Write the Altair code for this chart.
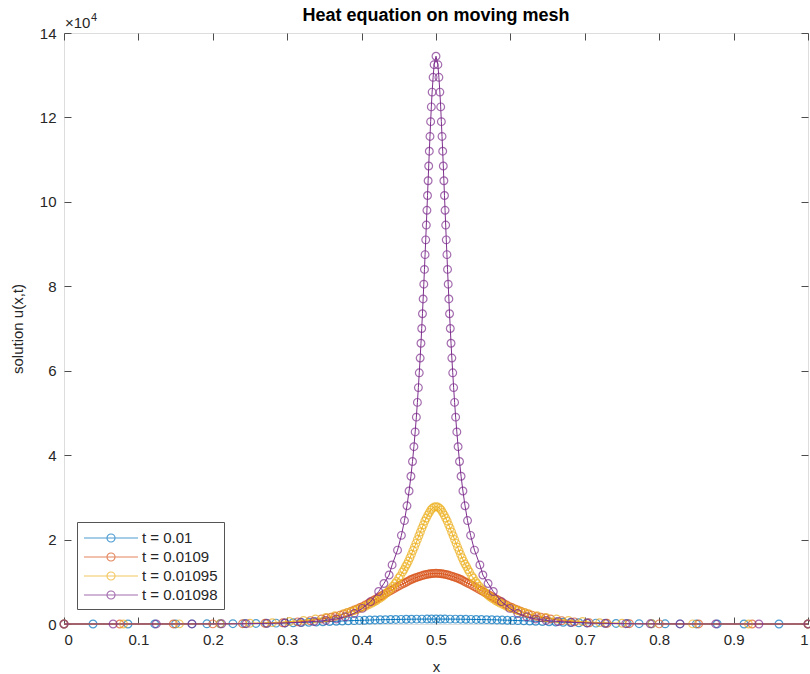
import altair as alt
import pandas as pd

series_names = ["t = 0.01", "t = 0.0109", "t = 0.01095", "t = 0.01098"]
series_colors = ["#0072BD", "#D95319", "#EDB120", "#7E2F8E"]

x_blue = [0, 0.039, 0.086, 0.122, 0.150, 0.172, 0.192, 0.210, 0.227, 0.243, 0.258, 0.272, 0.285, 0.297,
          0.308, 0.319, 0.329, 0.339, 0.348, 0.357, 0.366, 0.374, 0.382, 0.390, 0.397, 0.404, 0.411, 0.418,
          0.425, 0.432, 0.439, 0.446, 0.453, 0.460, 0.467, 0.474, 0.481, 0.488, 0.494, 0.500,
          0.506, 0.512, 0.519, 0.526, 0.533, 0.540, 0.547, 0.554, 0.561, 0.568, 0.575, 0.582, 0.589, 0.596,
          0.603, 0.610, 0.618, 0.626, 0.634, 0.643, 0.652, 0.661, 0.671, 0.681, 0.692, 0.703, 0.715, 0.728,
          0.742, 0.757, 0.773, 0.790, 0.808, 0.828, 0.850, 0.878, 0.914, 0.961, 1.0]
u_blue = [0, 2, 5, 10, 18, 28, 40, 55, 75, 100, 130, 165, 205, 250, 300, 355, 410, 470, 530, 590, 650,
          705, 760, 810, 855, 895, 935, 970, 1000, 1030, 1055, 1080, 1100, 1120, 1135, 1150, 1160, 1165,
          1170, 1170,
          1170, 1165, 1160, 1150, 1135, 1120, 1100, 1080, 1055, 1030, 1000, 970, 935, 895, 855, 810, 760,
          705, 650, 590, 530, 470, 410, 355, 300, 250, 205, 165, 130, 100, 75, 55, 40, 28, 18, 10, 5, 2, 0]

x_orange = [0, 0.075, 0.147, 0.200, 0.240, 0.270, 0.294, 0.314, 0.331,
            0.346, 0.353, 0.359, 0.365, 0.371, 0.376, 0.381, 0.386, 0.390, 0.394,
            0.398, 0.401, 0.405, 0.409, 0.412, 0.415, 0.418, 0.421, 0.424, 0.427,
            0.430, 0.433, 0.436, 0.439, 0.442, 0.445, 0.448, 0.451, 0.454, 0.457,
            0.460, 0.4625, 0.465, 0.4675, 0.470, 0.4725, 0.475, 0.4775, 0.480, 0.4825,
            0.485, 0.4875, 0.490, 0.4925, 0.495, 0.4975, 0.500,
            0.5025, 0.505, 0.5075, 0.510, 0.5125, 0.515, 0.5175, 0.520, 0.5225, 0.525,
            0.5275, 0.530, 0.5325, 0.535, 0.5375, 0.540, 0.543, 0.546, 0.549, 0.552,
            0.555, 0.558, 0.561, 0.564, 0.567, 0.570, 0.573, 0.576, 0.579, 0.582,
            0.585, 0.588, 0.591, 0.595, 0.599, 0.602, 0.606, 0.610, 0.614, 0.619,
            0.624, 0.629, 0.635, 0.641, 0.647, 0.654,
            0.669, 0.686, 0.706, 0.730, 0.760, 0.800, 0.853, 0.925, 1.0]
u_orange = [0, 3, 10, 30, 80, 160, 280, 500, 800,
            1200, 1400, 1600, 1800, 2100, 2400, 2700, 3000, 3300, 3550,
            3900, 4100, 4500, 4850, 5200, 5500, 5800, 6100, 6400, 6700,
            7000, 7300, 7600, 7900, 8200, 8500, 8800, 9100, 9400, 9650,
            9900, 10150, 10400, 10600, 10800, 10950, 11100, 11250, 11400, 11530,
            11650, 11750, 11850, 11900, 11950, 11990, 12000,
            11990, 11950, 11900, 11850, 11750, 11650, 11530, 11400, 11250, 11100,
            10950, 10800, 10600, 10400, 10150, 9900, 9650, 9400, 9100, 8800,
            8500, 8200, 7900, 7600, 7300, 7000, 6700, 6400, 6100, 5800,
            5500, 5200, 4850, 4500, 4100, 3900, 3550, 3300, 3000, 2700,
            2400, 2100, 1800, 1600, 1400, 1200,
            800, 500, 280, 160, 80, 30, 10, 3, 0]

x_yellow = [0, 0.08, 0.155, 0.21, 0.25, 0.28, 0.303, 0.322, 0.338, 0.352, 0.364, 0.375,
            0.380, 0.385, 0.390, 0.394, 0.398, 0.402, 0.406, 0.410, 0.414, 0.417,
            0.420, 0.424, 0.427, 0.430, 0.433, 0.436, 0.439, 0.442, 0.445, 0.447,
            0.450, 0.452, 0.455, 0.457, 0.459, 0.461, 0.463, 0.465, 0.467, 0.469,
            0.471, 0.473, 0.475, 0.477, 0.479, 0.481, 0.483, 0.485, 0.487, 0.489,
            0.491, 0.493, 0.495, 0.4975, 0.500,
            0.5025, 0.505, 0.507, 0.509, 0.511, 0.513, 0.515, 0.517, 0.519, 0.521,
            0.523, 0.525, 0.527, 0.529, 0.531, 0.533, 0.535, 0.537, 0.539, 0.541,
            0.543, 0.545, 0.548, 0.550, 0.553, 0.555, 0.558, 0.561, 0.564, 0.567,
            0.570, 0.573, 0.576, 0.580, 0.583, 0.586, 0.590, 0.594, 0.598, 0.602,
            0.606, 0.610, 0.615, 0.620,
            0.625, 0.636, 0.648, 0.662, 0.678, 0.697, 0.720, 0.750, 0.790, 0.845, 0.920, 1.0]
u_yellow = [0, 5, 25, 70, 170, 320, 570, 850, 1200, 1560, 1950, 2400,
            2650, 2900, 3200, 3450, 3700, 3950, 4250, 4600, 4950, 5250,
            5560, 6000, 6400, 6800, 7300, 7800, 8330, 8950, 9600, 10100,
            10900, 11400, 12300, 12900, 13600, 14200, 14900, 15700, 16500, 17400,
            18200, 19100, 20000, 20900, 21800, 22700, 23500, 24400, 25100, 25800,
            26400, 27000, 27400, 27700, 27800,
            27700, 27400, 27000, 26400, 25800, 25100, 24400, 23500, 22700, 21800,
            20900, 20000, 19100, 18200, 17400, 16500, 15700, 14900, 14200, 13600,
            12900, 12300, 11400, 10900, 10100, 9600, 8950, 8330, 7800, 7300,
            6800, 6400, 6000, 5560, 5250, 4950, 4600, 4250, 3950, 3700,
            3450, 3200, 2900, 2650,
            2400, 1950, 1560, 1200, 850, 570, 320, 170, 70, 25, 5, 0]

x_purple = [0, 0.066, 0.124, 0.172, 0.212, 0.245, 0.273, 0.297, 0.318, 0.336, 0.352, 0.366,
            0.378, 0.390, 0.401, 0.412, 0.423, 0.430, 0.437, 0.441,
            0.4483, 0.4535, 0.4576, 0.4610, 0.4638, 0.4663, 0.4684, 0.4703, 0.4720, 0.4736, 0.4750, 0.4763,
            0.4775, 0.4787, 0.4798, 0.4808, 0.4818, 0.4827, 0.4836, 0.4845, 0.4853, 0.4862, 0.4870, 0.4878,
            0.4886, 0.4894, 0.4902, 0.4910, 0.4919, 0.4928, 0.4937, 0.4948, 0.4961, 0.4975,
            0.5000,
            0.5025, 0.5039, 0.5052, 0.5063, 0.5072, 0.5081, 0.5090, 0.5098, 0.5106, 0.5114, 0.5122, 0.5130,
            0.5138, 0.5147, 0.5155, 0.5164, 0.5173, 0.5182, 0.5192, 0.5202, 0.5213, 0.5225, 0.5237, 0.5250,
            0.5264, 0.5280, 0.5297, 0.5316, 0.5337, 0.5362, 0.5390, 0.5424, 0.5465, 0.5517,
            0.559, 0.563, 0.570, 0.577, 0.588, 0.599, 0.610, 0.622,
            0.634, 0.648, 0.664, 0.682, 0.703, 0.727, 0.755, 0.788, 0.828, 0.876, 0.934, 1.0]
u_purple = [0, 5, 10, 20, 40, 80, 150, 250, 400, 600, 850, 1200,
            1700, 2500, 3700, 5300, 7700, 9600, 11600, 14000,
            17500, 21000, 24500, 28000, 31500, 35000, 38500, 42000, 45500, 49000, 52500, 56000,
            59500, 63000, 66500, 70000, 73500, 77000, 80500, 84000, 87500, 91000, 94500, 98000,
            101500, 105000, 108500, 112000, 115500, 119000, 122500, 126000, 129500, 132500,
            134500,
            132500, 129500, 126000, 122500, 119000, 115500, 112000, 108500, 105000, 101500, 98000, 94500,
            91000, 87500, 84000, 80500, 77000, 73500, 70000, 66500, 63000, 59500, 56000, 52500,
            49000, 45500, 42000, 38500, 35000, 31500, 28000, 24500, 21000, 17500,
            14000, 11600, 9600, 7700, 5300, 3700, 2500, 1700,
            1200, 850, 600, 400, 250, 150, 80, 40, 20, 10, 5, 0]

x_ticks = [0, 0.1, 0.2, 0.3, 0.4, 0.5, 0.6, 0.7, 0.8, 0.9, 1]
y_ticks = [0, 20000, 40000, 60000, 80000, 100000, 120000, 140000]

title_text = "Heat equation on moving mesh"
x_title = "x"
y_title = "solution u(x,t)"

series_data = [(x_blue, u_blue), (x_orange, u_orange), (x_yellow, u_yellow), (x_purple, u_purple)]
rows = []
for name, (xs, us) in zip(series_names, series_data):
    for xv, uv in zip(xs, us):
        rows.append({"series": name, "x": xv, "u": uv})
df = pd.DataFrame(rows)
one = pd.DataFrame({"k": [0]})

FONT = "Liberation Sans"
AX = "#4d4d4d"
TXT = "#262626"

x_scale = alt.Scale(domain=[0, 1], nice=False, zero=False)
y_scale = alt.Scale(domain=[0, 140000], nice=False, zero=False)
color_scale = alt.Scale(domain=series_names, range=series_colors)

legend_path = "M-1,0L5,0M2.45,0A0.45,0.45,0,1,1,1.55,0A0.45,0.45,0,1,1,2.45,0"
legend = alt.Legend(
    title=None, orient="none", legendX=13, legendY=489,
    symbolType=legend_path, symbolSize=324, symbolStrokeWidth=1.1,
    symbolFillColor="transparent",
    labelOffset=39, labelFont=FONT, labelFontSize=15, labelColor=TXT,
    fillColor="white", strokeColor="#555555", padding=6, rowPadding=1,
)

layers = []
for name in series_names:
    base = alt.Chart(df).transform_filter(alt.datum.series == name)
    enc = dict(
        x=alt.X("x:Q", scale=x_scale, axis=None),
        y=alt.Y("u:Q", scale=y_scale, axis=None),
        color=alt.Color("series:N", scale=color_scale, legend=legend),
    )
    layers.append(base.mark_line(strokeWidth=1).encode(**enc))
    layers.append(base.mark_point(shape="circle", filled=False, size=60, strokeWidth=1.2).encode(**enc))

common_axis = dict(offset=-7, tickSize=7, domain=False, grid=False, tickColor=AX, tickWidth=1,
                   labelFont=FONT, labelFontSize=15, labelColor=TXT, titleFont=FONT,
                   titleFontSize=15, titleColor=TXT, titleFontWeight="normal")

axes_main = alt.Chart(df).mark_point(opacity=0).encode(
    x=alt.X("x:Q", scale=x_scale, axis=alt.Axis(orient="bottom", values=x_ticks, format="~g",
                                                 title=x_title, labelPadding=8, titlePadding=12,
                                                 **common_axis)),
    y=alt.Y("u:Q", scale=y_scale, axis=alt.Axis(orient="left", values=y_ticks,
                                                 labelExpr="datum.value / 10000",
                                                 title=y_title, labelPadding=8,
                                                 titlePadding=14, **common_axis)),
)
axes_mirror = alt.Chart(df).mark_point(opacity=0).encode(
    x=alt.X("x:Q", scale=x_scale, axis=alt.Axis(orient="top", values=x_ticks, labels=False,
                                                 title=None, **common_axis)),
    y=alt.Y("u:Q", scale=y_scale, axis=alt.Axis(orient="right", values=y_ticks, labels=False,
                                                 title=None, **common_axis)),
)

exp_base = alt.Chart(one).mark_text(
    text="×10", align="left", baseline="alphabetic", font=FONT, fontSize=15, color=TXT
).encode(x=alt.value(1), y=alt.value(-5))
exp_pow = alt.Chart(one).mark_text(
    text="4", align="left", baseline="alphabetic", font=FONT, fontSize=11, color=TXT
).encode(x=alt.value(27), y=alt.value(-12))
title_mark = alt.Chart(one).mark_text(
    text=title_text, align="center", baseline="alphabetic", font=FONT, fontSize=18,
    fontWeight="bold", color="black"
).encode(x=alt.value(372), y=alt.value(-12))

chart = alt.layer(axes_main, axes_mirror, *layers, exp_base, exp_pow, title_mark).resolve_axis(
    x="independent", y="independent"
).properties(
    width=744, height=591,
    autosize=alt.AutoSizeParams(type="none"),
    padding={"left": 64, "top": 33, "right": 2, "bottom": 50},
).configure_view(stroke=AX, strokeWidth=1).configure(font=FONT, background="white")

chart.save("out.html", embed_options={"renderer": "svg", "actions": False})
